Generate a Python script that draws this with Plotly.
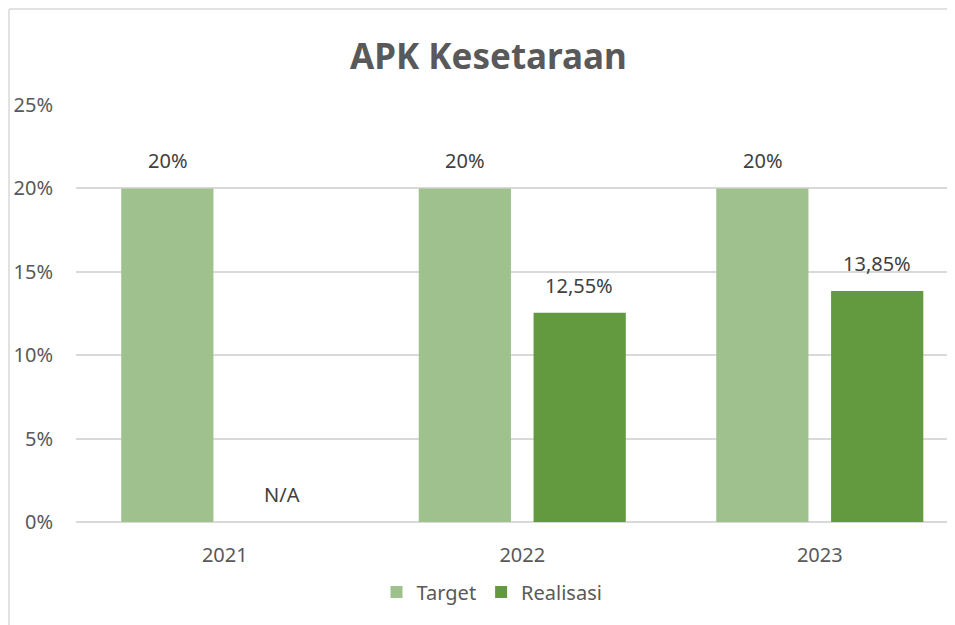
import plotly.graph_objects as go

years = ["2021", "2022", "2023"]
target = [0.20, 0.20, 0.20]
realisasi = [0.0, 0.1255, 0.1385]
target_labels = ["20%", "20%", "20%"]
realisasi_labels = ["N/A", "12,55%", "13,85%"]
yticks = [0, 0.05, 0.10, 0.15, 0.20, 0.25]
ytick_text = ["0%", "5%", "10%", "15%", "20%", "25%"]

# the page body adds an 8px margin, so the figure is sized to fill the rest
W, H = 947, 617
ML, MR, MT, MB = 68, 0, 97, 103
PW = W - ML - MR
PH = H - MT - MB

FONT = "Noto Sans"
TXT = "#404040"
AX = "#595959"

fig = go.Figure()
fig.add_trace(go.Bar(name="Target", x=years, y=target,
                     marker=dict(color="#9fc18d", line=dict(width=0)),
                     hoverinfo="skip"))
fig.add_trace(go.Bar(name="Realisasi", x=years, y=realisasi,
                     marker=dict(color="#63993f", line=dict(width=0)),
                     hoverinfo="skip"))

annotations = []
for i, (v, t) in enumerate(zip(target, target_labels)):
    annotations.append(dict(x=i, y=v, text=t, showarrow=False, xref="x", yref="y",
                            xanchor="center", yanchor="bottom", xshift=-57, yshift=12,
                            font=dict(family=FONT, size=20, color=TXT)))
for i, (v, t) in enumerate(zip(realisasi, realisasi_labels)):
    annotations.append(dict(x=i, y=v, text=t, showarrow=False, xref="x", yref="y",
                            xanchor="center", yanchor="bottom", xshift=57, yshift=12,
                            font=dict(family=FONT, size=20, color=TXT)))

annotations.append(dict(text="<b>APK Kesetaraan</b>", xref="paper", yref="paper",
                        x=(480 - ML) / PW, y=1 + (MT - 47) / PH, xanchor="center", yanchor="middle",
                        showarrow=False, font=dict(family=FONT, size=35, color=AX)))

shapes = [
    dict(type="line", xref="paper", yref="paper",
         x0=(1 - ML) / PW, x1=(1 - ML) / PW, y0=1 + (MT - 1) / PH, y1=-(MB + 5) / PH,
         line=dict(color="#d9d9d9", width=1.5)),
    dict(type="line", xref="paper", yref="paper",
         x0=(1 - ML) / PW, x1=1.05, y0=1 + (MT - 1) / PH, y1=1 + (MT - 1) / PH,
         line=dict(color="#d9d9d9", width=1.5)),
]

fig.update_layout(
    width=W, height=H,
    margin=dict(l=ML, r=MR, t=MT, b=MB, pad=0),
    paper_bgcolor="white", plot_bgcolor="white",
    barmode="group", bargap=0.228, bargroupgap=0.197,
    font=dict(family=FONT, size=20, color=TXT),
    showlegend=True,
    legend=dict(orientation="h", x=(484 - ML) / PW, xanchor="center",
                y=-(584 - (MT + PH)) / PH, yanchor="middle",
                font=dict(family=FONT, size=20, color=AX),
                itemsizing="constant", traceorder="normal"),
    annotations=annotations,
    shapes=shapes,
    xaxis=dict(type="category", range=[-0.5, 2.5 - 13.5 / 297], showgrid=False,
               showline=False, zeroline=False, ticks="",
               tickfont=dict(family=FONT, size=20, color=AX),
               ticklabelstandoff=19),
    yaxis=dict(range=[0, 0.25], tickvals=yticks, ticktext=ytick_text,
               showgrid=True, gridcolor="#d9d9d9", gridwidth=1.5,
               zeroline=True, zerolinecolor="#d9d9d9", zerolinewidth=1.5,
               showline=False, ticks="",
               tickfont=dict(family=FONT, size=20, color=AX),
               ticklabelstandoff=22),
)

fig.write_html("out.html")
